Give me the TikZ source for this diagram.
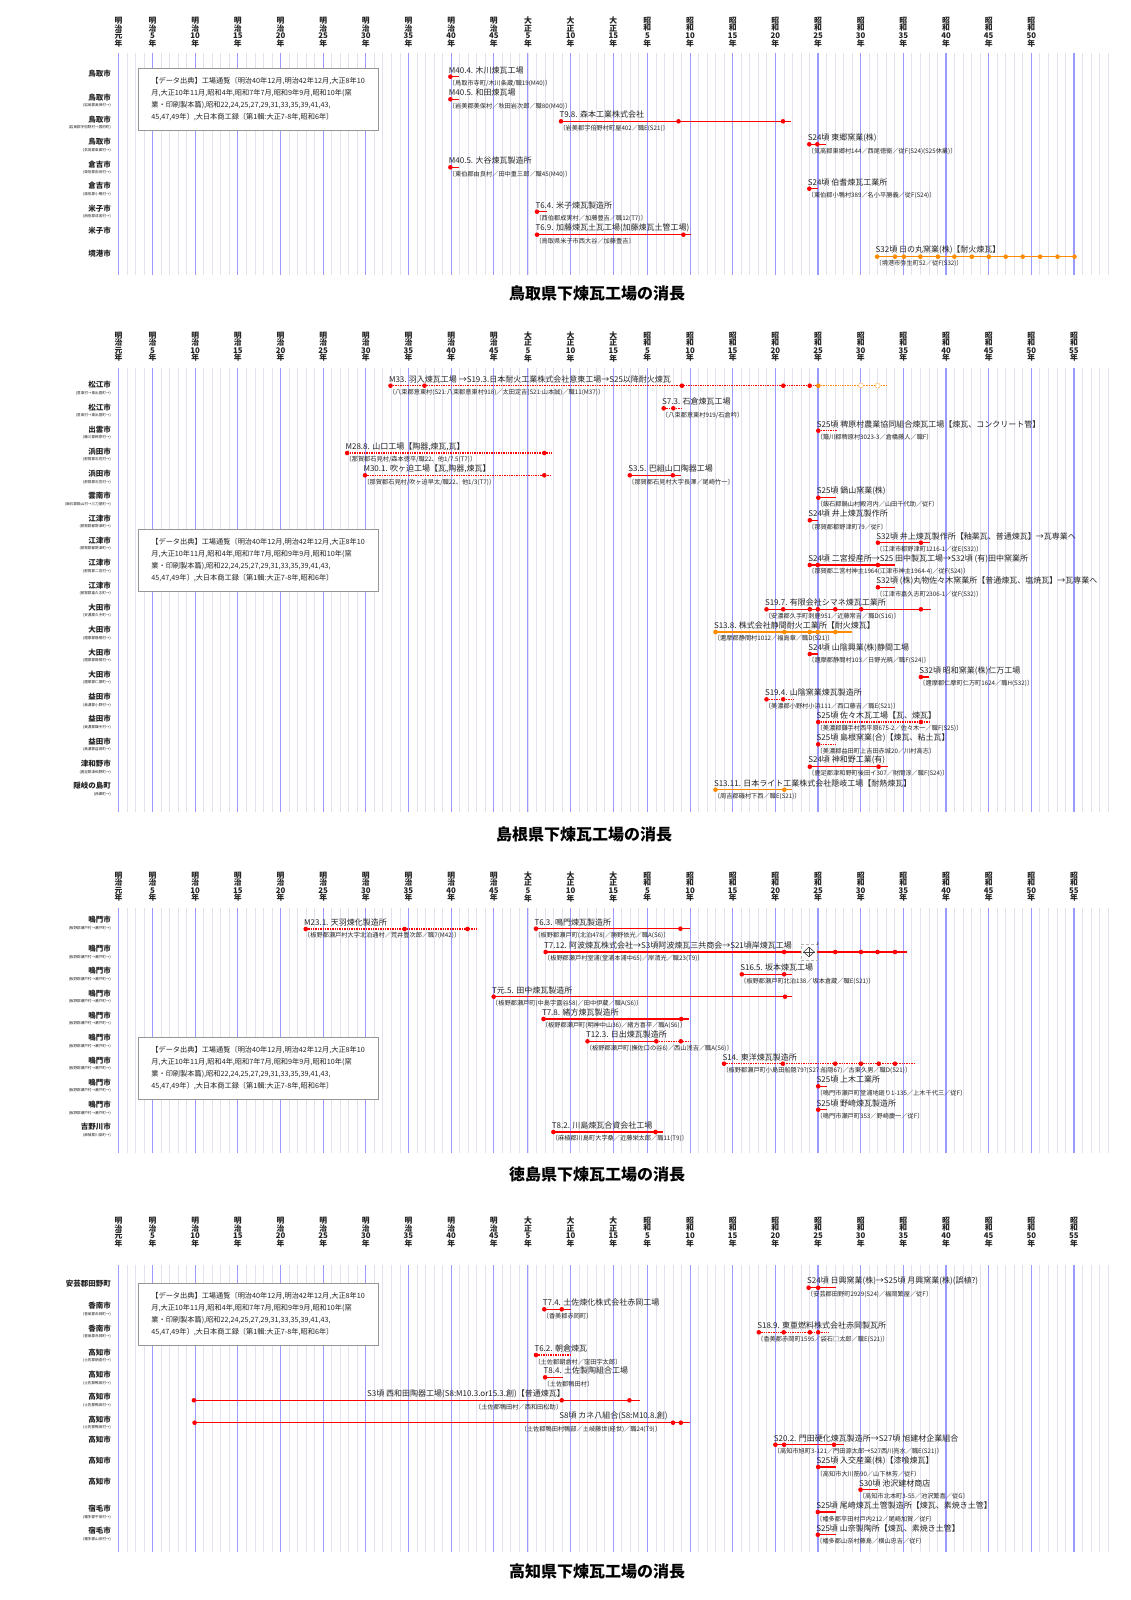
\documentclass[tikz,border=0pt]{standalone}
\usepackage{fontspec}
\setmainfont{Noto Sans CJK JP}
\usetikzlibrary{shapes.geometric}
\definecolor{majc}{RGB}{155,155,255}
\definecolor{minc}{RGB}{226,226,238}
\definecolor{txtc}{RGB}{35,35,35}
\definecolor{evr}{RGB}{255,0,0}
\definecolor{evo}{RGB}{255,140,0}
\definecolor{boxc}{RGB}{150,150,150}
\newcommand\hdrlistA{1868/明/治/元, 1872/明/治/5, 1877/明/治/10, 1882/明/治/15, 1887/明/治/20, 1892/明/治/25, 1897/明/治/30, 1902/明/治/35, 1907/明/治/40, 1912/明/治/45, 1916/大/正/5, 1921/大/正/10, 1926/大/正/15, 1930/昭/和/5, 1935/昭/和/10, 1940/昭/和/15, 1945/昭/和/20, 1950/昭/和/25, 1955/昭/和/30, 1960/昭/和/35, 1965/昭/和/40, 1970/昭/和/45, 1975/昭/和/50}
\newcommand\hdrlistB{1868/明/治/元, 1872/明/治/5, 1877/明/治/10, 1882/明/治/15, 1887/明/治/20, 1892/明/治/25, 1897/明/治/30, 1902/明/治/35, 1907/明/治/40, 1912/明/治/45, 1916/大/正/5, 1921/大/正/10, 1926/大/正/15, 1930/昭/和/5, 1935/昭/和/10, 1940/昭/和/15, 1945/昭/和/20, 1950/昭/和/25, 1955/昭/和/30, 1960/昭/和/35, 1965/昭/和/40, 1970/昭/和/45, 1975/昭/和/50, 1980/昭/和/55}
\newcommand\yrx[1]{118.4+8.532*(#1-1868)}
\newcommand\gridpanel[2]{%
  \foreach \yr in {1868,...,1984}{\draw[minl] ({\yrx{\yr}},#1) -- ({\yrx{\yr}},#2);}
  \foreach \yr in {1868,1872,1877,1882,1887,1892,1897,1902,1907,1912,1916,1921,1926,1930,1935,1940,1945,1950,1955,1960,1965,1970,1975,1980}{\draw[majl] ({\yrx{\yr}},#1) -- ({\yrx{\yr}},#2);}
}
\newcommand\hdr[3]{%
  \foreach \yr/\ka/\kb/\kn in #1 {\node[hdrtx] (#3\yr) at ({\yrx{\yr}},#2) {\ka\\\kb\\\kn\\年};}
}
\newcommand\evt[8]{%
  \coordinate (#1s) at (#3,#2);
  \coordinate (#1e) at (#4,#2);
  \draw[barln,#8] (#1s) -- (#1e);
  \foreach \dx [count=\k] in {#5} {\node[dotn,#8,solid] (#1d\k) at (\dx,#2) {};}
  \node[ttltx] (#1t) at ([xshift=-1.7pt,yshift=6.4pt]#1s) {#6};
  \node[captx] (#1c) at ([xshift=-1.7pt,yshift=-6.8pt]#1s) {#7};
}
\newcommand\rl[3]{\node[rowlab] (#1) at (111,#2) {#3};}
\newcommand\rls[4]{\node[rowlab] (#1) at (111,#2) {#3};\node[sublab] (#1s) at (111,{#2+8}) {#4};}
\newcommand\notebox[2]{\node[nbox] (#1) at (138,#2) {【データ出典】工場通覧〔明治40年12月,明治42年12月,大正8年10\\月,大正10年11月,昭和4年,昭和7年7月,昭和9年9月,昭和10年(窯\\業・印刷製本篇),昭和22,24,25,27,29,31,33,35,39,41,43,\\45,47,49年〕,大日本商工録〔第1輯:大正7-8年,昭和6年〕};}
\begin{document}
\begin{tikzpicture}[x=1pt,y=-1pt,
  minl/.style={draw=minc,line width=0.8pt},
  majl/.style={draw=majc,line width=1.1pt},
  hdrtx/.style={inner sep=0pt,align=center,text=txtc,font=\bfseries\fontsize{7.8}{7.6}\selectfont},
  ttltx/.style={anchor=west,inner sep=0pt,text=txtc,font=\fontsize{8}{8.5}\selectfont},
  captx/.style={anchor=west,inner sep=0pt,text=txtc,font=\fontsize{6.2}{6.5}\selectfont},
  rowlab/.style={anchor=east,inner sep=0pt,text=txtc,font=\bfseries\fontsize{7.5}{8}\selectfont},
  sublab/.style={anchor=east,inner sep=0pt,text=txtc,font=\fontsize{3.6}{4}\selectfont},
  ptitle/.style={inner sep=0pt,text=black,font=\bfseries\fontsize{16}{18}\selectfont},
  barln/.style={line width=1.3pt},
  dotline/.style={dash pattern=on 1.4pt off 1pt},
  dotn/.style={circle,fill,draw=none,inner sep=0pt,minimum size=4.6pt},
  nbox/.style={anchor=north west,draw=boxc,fill=white,line width=0.8pt,minimum width=239.5pt,minimum height=61.5pt,align=left,inner xsep=11pt,text=txtc,font=\fontsize{7.2}{12}\selectfont}]
\fill[white] (0,0) rectangle (1131,1600);
\useasboundingbox (0,0) rectangle (1131,1600);

% ================= Panel 1: Tottori =================
\gridpanel{53}{275}
\hdr{\hdrlistA}{32}{hA}
\notebox{nA}{68.3}
\rl{rAa}{74}{鳥取市}
\rls{rAb}{97.7}{鳥取市}{(岩美郡美保村→)}
\rls{rAc}{119.7}{鳥取市}{(岩美郡宇倍野村→国府町)}
\rls{rAd}{142}{鳥取市}{(気高郡東郷村→)}
\rls{rAe}{164.5}{倉吉市}{(東伯郡由良村→)}
\rls{rAf}{186}{倉吉市}{(東伯郡小鴨村→)}
\rls{rAg}{208.5}{米子市}{(西伯郡成実村→)}
\rl{rAh}{231}{米子市}
\rl{rAi}{253.5}{境港市}
\evt{a1}{76.7}{450.4}{459.3}{450.4}{M40.4. 木川煉瓦工場}{〔鳥取市寺町/木川条蔵/職19(M40)〕}{evr}
\evt{a2}{99.3}{450.4}{459.3}{450.4}{M40.5. 和田煉瓦場}{〔岩美郡美保村／秋田岩次郎／職80(M40)〕}{evr}
\evt{a3}{121.3}{561}{790.5}{561,678.5,783}{T9.8. 森本工業株式会社}{〔岩美郡宇倍野村町屋402／職E(S21)〕}{evr}
\evt{a4}{144.3}{809.3}{826.3}{809.3,817.3}{S24頃 東郷窯業(株)}{〔気高郡東郷村144／西尾徳衛／従F(S24)(S25休業)〕}{evr}
\evt{a5}{167.3}{450.4}{459.3}{450.4}{M40.5. 大谷煉瓦製造所}{〔東伯郡由良村／田中重三郎／職45(M40)〕}{evr}
\evt{a6}{188.7}{809.3}{818.2}{809.3}{S24頃 伯耆煉瓦工業所}{〔東伯郡小鴨村389／名小平勝義／従F(S24)〕}{evr}
\evt{a7}{211.7}{537}{546.8}{537}{T6.4. 米子煉瓦製造所}{〔西伯郡成実村／加藤豊吉／職12(T7)〕}{evr}
\evt{a8}{234.7}{537}{691.4}{537,683.4}{T6.9. 加藤煉瓦土瓦工場(加藤煉瓦土管工場)}{〔鳥取県米子市西大谷／加藤豊吉〕}{evr}
\evt{a9}{256.7}{877.1}{1074.5}{877.1,895,903.9,920.4,937.9,954.4,971.8,988.8,1005.7,1022.7,1040.1,1057.5,1074.5}{S32頃 日の丸窯業(株)【耐火煉瓦】}{〔境港市弥生町52／従F(S32)〕}{evo}
\node[ptitle] (tA) at (597,293) {鳥取県下煉瓦工場の消長};

% ================= Panel 2: Shimane =================
\gridpanel{368}{812}
\hdr{\hdrlistB}{346.7}{hB}
\notebox{nB}{529}
\rls{rBa}{385}{松江市}{(意東村→東出雲町→)}
\rls{rBb}{407.3}{松江市}{(意東村→東出雲町→)}
\rls{rBc}{429.3}{出雲市}{(簸川郡稗原村→)}
\rls{rBd}{451.7}{浜田市}{(那賀郡石見村→)}
\rls{rBe}{474}{浜田市}{(那賀郡石見村→)}
\rls{rBf}{496}{雲南市}{(飯石郡鍋山村→三刀屋町→)}
\rls{rBg}{518.5}{江津市}{(那賀郡都野津町→)}
\rls{rBh}{540.7}{江津市}{(那賀郡都野津町→)}
\rls{rBi}{563}{江津市}{(那賀郡二宮村→)}
\rls{rBj}{585.3}{江津市}{(那賀郡嘉久志町→)}
\rls{rBk}{607.7}{大田市}{(安濃郡久手町→)}
\rls{rBl}{630}{大田市}{(邇摩郡静間村→)}
\rls{rBm}{652.3}{大田市}{(邇摩郡静間村→)}
\rls{rBn}{674.3}{大田市}{(邇摩郡仁摩町→)}
\rls{rBo}{697}{益田市}{(美濃郡小野村→)}
\rls{rBp}{719}{益田市}{(美濃郡鎌手村→)}
\rls{rBq}{741.3}{益田市}{(美濃郡益田町→)}
\rls{rBr}{764}{津和野市}{(鹿足郡津和野町→)}
\rls{rBs}{786}{隠岐の島町}{(西郷町→)}
\evt{b1}{385.7}{390.5}{818.3}{390.5,424.5,681.9,783.3,809.7}{M33. 羽入煉瓦工場 →S19.3.日本耐火工業株式会社意東工場→S25以降耐火煉瓦}{〔八束郡意東村(S21:八束郡意東村918)／太田定吉(S21:山本誠)／職11(M37)〕}{evr,dotline}
\coordinate (b1f) at (886.2,385.7);
\draw[barln,evo,dotline] (b1e) -- (b1f);
\node[dotn,evo] (b1o) at (b1e) {};
\node[circle,draw=evo,fill=white,densely dotted,line width=0.7pt,inner sep=0pt,minimum size=5pt] (b1h1) at (860.9,385.7) {};
\node[circle,draw=evo,fill=white,densely dotted,line width=0.7pt,inner sep=0pt,minimum size=5pt] (b1h2) at (877.6,385.7) {};
\evt{b2}{408.3}{663.7}{681.4}{663.7,673.3}{S7.3. 石倉煉瓦工場}{〔八束郡意東村919/石倉吟〕}{evr,dotline}
\evt{b3}{430.7}{818.3}{837}{818.3}{S25頃 稗原村農業協同組合煉瓦工場【煉瓦、コンクリート管】}{〔簸川郡稗原村3023-3／倉橋藤人／職F〕}{evr,dotline}
\evt{b4}{453}{347.1}{551.8}{347.1,544.3}{M28.8. 山口工場【陶器,煉瓦,瓦】}{〔那賀郡石見村/森本徳平/職22、他1/7.5(T7)〕}{evr,dotline}
\evt{b5}{475.3}{365}{551.8}{365,544.3}{M30.1. 吹ヶ迫工場【瓦,陶器,煉瓦】}{〔那賀郡石見村/吹ヶ迫早太/職22、他1/3(T7)〕}{evr,dotline}
\evt{b6}{475.3}{629.8}{680.5}{629.8,672.8}{S3.5. 巴組山口陶器工場}{〔那賀郡石見村大字長澤／尾崎竹一〕}{evr}
\evt{b7}{497.7}{818.3}{836}{818.3}{S25頃 鍋山窯業(株)}{〔飯石郡鍋山村殿河内／山田千代助／従F〕}{evr}
\evt{b8}{520.3}{809.8}{817.8}{809.8}{S24頃 井上煉瓦製作所}{〔那賀郡都野津町79／従F〕}{evr}
\evt{b9}{542.7}{877.9}{930}{877.9,920.9}{S32頃 井上煉瓦製作所【釉薬瓦、普通煉瓦】→瓦専業へ}{〔江津市都野津町1216-1／従E(S32)〕}{evr}
\evt{b10}{565}{809.8}{895}{809.8,817.8,877.9}{S24頃 二宮授産所→S25 田中製瓦工場→S32頃 (有)田中窯業所}{〔那賀郡二宮村神主1964(江津市神主1964-4)／従F(S24)〕}{evr}
\evt{b11}{587.3}{877.9}{895}{877.9}{S32頃 (株)丸物佐々木窯業所【普通煉瓦、塩焼瓦】→瓦専業へ}{〔江津市嘉久志町2306-1／従F(S32)〕}{evr}
\evt{b12}{609.3}{766.5}{930.7}{766.5,783.2,809.8,817.8,835.3,861.2,920.9}{S19.7. 有限会社シマネ煉瓦工業所}{〔安濃郡久手町刺鹿951／近藤常吉／職D(S16)〕}{evr}
\evt{b13}{632}{715.5}{852}{715.5,784.3,809.8,817.8,835.3}{S13.8. 株式会社静間耐火工業所【耐火煉瓦】}{〔邇摩郡静間村1012／福島章／職D(S21)〕}{evo}
\evt{b14}{654}{809.8}{817.8}{809.8}{S24頃 山陰興業(株)静間工場}{〔邇摩郡静間村103／日野光暁／職F(S24)〕}{evr}
\evt{b15}{677}{920.9}{928.5}{920.9}{S32頃 昭和窯業(株)仁万工場}{〔邇摩郡仁摩町仁万町1624／職H(S32)〕}{evr}
\evt{b16}{699.3}{766.5}{793}{766.5,783.2}{S19.4. 山陰窯業煉瓦製造所}{〔美濃郡小野村小浜111／西口藤吉／職E(S21)〕}{evr,dotline}
\evt{b17}{722}{818.2}{930}{818.2,920.9}{S25頃 佐々木瓦工場【瓦、煉瓦】}{〔美濃郡鎌手村西平原675-2／佐々木一／職F(S25)〕}{evr,dotline}
\evt{b18}{744.3}{818.2}{835.7}{818.2}{S25頃 島根窯業(合)【煉瓦、粘土瓦】}{〔美濃郡益田町上吉田赤城20／川村高志〕}{evr,dotline}
\evt{b19}{766.7}{809.8}{887.7}{809.8,878.6}{S24頃 神和野工業(有)}{〔鹿足郡津和野町後田イ307／財間淳／職F(S24)〕}{evr}
\evt{b20}{789.7}{715.5}{791.6}{715.5,784.3}{S13.11. 日本ライト工業株式会社隠岐工場【耐熱煉瓦】}{〔周吉郡磯村下西／職E(S21)〕}{evo}
\node[ptitle] (tB) at (584,834) {島根県下煉瓦工場の消長};

% ================= Panel 3: Tokushima =================
\gridpanel{908}{1153}
\hdr{\hdrlistB}{886.7}{hC}
\notebox{nC}{1037.3}
\rls{rCa}{920}{鳴門市}{(板野郡瀬戸村→瀬戸町→)}
\rls{rCb}{949}{鳴門市}{(板野郡瀬戸村→瀬戸町→)}
\rls{rCc}{971}{鳴門市}{(板野郡瀬戸村→瀬戸町→)}
\rls{rCd}{993.3}{鳴門市}{(板野郡瀬戸村→瀬戸町→)}
\rls{rCe}{1015.7}{鳴門市}{(板野郡瀬戸村→瀬戸町→)}
\rls{rCf}{1038}{鳴門市}{(板野郡瀬戸村→瀬戸町→)}
\rls{rCg}{1060.3}{鳴門市}{(板野郡瀬戸村→瀬戸町→)}
\rls{rCh}{1082.3}{鳴門市}{(板野郡瀬戸村→瀬戸町→)}
\rls{rCi}{1105}{鳴門市}{(板野郡瀬戸村→瀬戸町→)}
\rls{rCj}{1127}{吉野川市}{(麻植郡川島町→)}
\evt{c1}{929}{305.7}{476.8}{305.7,404.6,467.5}{M23.1. 天羽煉化製造所}{〔板野郡瀬戸村大字北泊通村／荒井豊次郎／職7(M42)〕}{evr,dotline}
\evt{c2}{928.7}{536}{690}{536,680.4}{T6.3. 鳴門煉瓦製造所}{〔板野郡瀬戸町(北泊478)／勝野依光／職A(S6)〕}{evr}
\evt{c3}{952}{545.6}{907.4}{545.6,784.1,835.2,860.9,877.5,895}{T7.12. 阿波煉瓦株式会社→S3頃阿波煉瓦三共商会→S21頃岸煉瓦工場}{〔板野郡瀬戸村堂浦(堂浦本浦中65)／岸清光／職23(T9)〕}{evr}
\node[draw=gray!60,densely dashed,line width=0.4pt,fill=white,inner sep=0pt,minimum width=16pt,minimum height=16pt] (c3b) at (809,952) {};
\node[diamond,draw=black!75,line width=0.6pt,inner sep=0pt,minimum width=11pt,minimum height=10pt] (c3x) at (809,952) {};
\draw[black!75,line width=0.5pt] (c3x.west) -- (c3x.east);
\draw[black!75,line width=0.5pt] (c3x.north) -- (c3x.south);
\node[inner sep=0pt,font=\fontsize{3.5}{4}\selectfont,text=txtc] (c3E) at (818,944) {E};
\evt{c4}{974.3}{741.8}{792.4}{741.8,784.1}{S16.5. 坂本煉瓦工場}{〔板野郡瀬戸町北泊138／坂本倉蔵／職E(S21)〕}{evr}
\evt{c5}{996.7}{493.7}{792.4}{493.7,785}{T元.5. 田中煉瓦製造所}{〔板野郡瀬戸町(中島字露谷58)／田中伊蔵／職A(S6)〕}{evr}
\evt{c6}{1019}{543.5}{688.7}{543.5,681.2}{T7.8. 緒方煉瓦製造所}{〔板野郡瀬戸町(明神中山36)／緒方喜平／職A(S6)〕}{evr}
\evt{c7}{1041.3}{587.5}{656.3}{587.5,656.3}{T12.3. 日出煉瓦製造所}{〔板野郡瀬戸町(撫佐口の谷6)／西山浅吉／職A(S6)〕}{evr}
\coordinate (c7f) at (690.8,1041.3);
\draw[barln,evr,dotline] (c7e) -- (c7f);
\node[dotn,evr] (c7d3) at (680.8,1041.3) {};
\evt{c8}{1063.7}{724}{914.9}{724,782.9,835.2,860.9,878.8,895}{S14. 東洋煉瓦製造所}{〔板野郡瀬戸町小島田船隠79?(S27:船隠67)／古東久男／職D(S21)〕}{evr,dotline}
\evt{c9}{1086.3}{818.2}{826.5}{818.2}{S25頃 上木工業所}{〔鳴門市瀬戸町堂浦地廻り1-135／上木千代三／従F〕}{evr}
\evt{c10}{1109.7}{818.2}{826.5}{818.2}{S25頃 野崎煉瓦製造所}{〔鳴門市瀬戸町353／野崎慶一／従F〕}{evr}
\evt{c11}{1132}{553.4}{663}{553.4,655.5}{T8.2. 川島煉瓦合資会社工場}{〔麻植郡川島町大字桑／近藤栄太郎／職11(T9)〕}{evr}
\node[ptitle] (tC) at (597,1174) {徳島県下煉瓦工場の消長};

% ================= Panel 4: Kochi =================
\gridpanel{1265}{1552}
\hdr{\hdrlistB}{1232}{hD}
\notebox{nD}{1283.3}
\rl{rDa}{1284}{安芸郡田野町}
\rls{rDb}{1306}{香南市}{(香美郡赤岡町→)}
\rls{rDc}{1328.7}{香南市}{(香美郡赤岡町→)}
\rls{rDd}{1352.7}{高知市}{(土佐郡朝倉村→)}
\rls{rDe}{1375}{高知市}{(土佐郡鴨田村→)}
\rls{rDf}{1397}{高知市}{(土佐郡鴨田村→)}
\rls{rDg}{1419.3}{高知市}{(土佐郡鴨田村→)}
\rl{rDh}{1440}{高知市}
\rl{rDi}{1460.7}{高知市}
\rl{rDj}{1481.7}{高知市}
\rls{rDk}{1509}{宿毛市}{(幡多郡平田村→)}
\rls{rDl}{1531}{宿毛市}{(幡多郡山奈村→)}
\evt{d1}{1287.7}{808.6}{835.6}{808.6,818.2}{S24頃 日興窯業(株)→S25頃 月興窯業(株)(誤植?)}{〔安芸郡田野町2929(S24)／福岡繁屋／従F〕}{evr}
\evt{d2}{1309.3}{544.3}{570.5}{544.3,561.7}{T7.4. 土佐煉化株式会社赤岡工場}{〔香美郡赤岡町〕}{evr}
\evt{d3}{1332.3}{758.8}{828.5}{758.8,783.7,809.9,818.2}{S18.9. 東亜燃料株式会社赤岡製瓦所}{〔香美郡赤岡町1595／袋石□太郎／職E(S21)〕}{evr,dotline}
\evt{d4}{1355}{536}{570.5}{536}{T6.2. 朝倉煉瓦}{〔土佐郡朝倉村／窪田宇太郎〕}{evr,dotline}
\evt{d5}{1377.3}{545.1}{563}{545.1}{T8.4. 土佐製陶組合工場}{〔土佐郡鴨田村〕}{evr}
% d6
\coordinate (d6s) at (193.9,1400.3);
\coordinate (d6e) at (639.8,1400.3);
\draw[barln,evr] (d6s) -- (d6e);
\node[dotn,evr] (d6d1) at (193.9,1400.3) {};
\node[dotn,evr] (d6d2) at (561.7,1400.3) {};
\node[dotn,evr] (d6d3) at (629.4,1400.3) {};
\node[ttltx] (d6t) at (366.9,1393.9) {S3頃 西和田陶器工場(S8:M10.3.or15.3.創)【普通煉瓦】};
\node[captx] (d6c) at (475,1407.1) {〔土佐郡鴨田村／西和田松助〕};
% d7
\coordinate (d7s) at (194.6,1422.7);
\coordinate (d7e) at (690,1422.7);
\draw[barln,evr] (d7s) -- (d7e);
\node[dotn,evr] (d7d1) at (194.6,1422.7) {};
\node[dotn,evr] (d7d2) at (673,1422.7) {};
\node[dotn,evr] (d7d3) at (680.8,1422.7) {};
\node[ttltx] (d7t) at (559.2,1416.3) {S8頃 カネ八組合(S8:M10.8.創)};
\node[captx] (d7c) at (520.6,1429.5) {〔土佐郡鴨田村鴨部／土岐藤世(経世)／職24(T9)〕};
\evt{d8}{1444.7}{775.4}{844.3}{775.4,784.1,834}{S20.2. 門田硬化煉瓦製造所→S27頃 旭建材企業組合}{〔高知市旭町3-121／門田源太郎→S27西川亮水／職E(S21)〕}{evr}
\evt{d9}{1467}{818.2}{835.6}{818.2}{S25頃 入交産業(株)【漆喰煉瓦】}{〔高知市大川筋90／山下林芳／従F〕}{evr}
\evt{d10}{1489.7}{860.5}{878.3}{860.5}{S30頃 池沢建材商店}{〔高知市北本町3-55／池沢繁喜／従G〕}{evr}
\evt{d11}{1512}{817.8}{835.6}{817.8}{S25頃 尾崎煉瓦土管製造所【煉瓦、素焼き土管】}{〔幡多郡平田村戸内212／尾崎加賀／従F〕}{evr}
\evt{d12}{1534.7}{817.8}{835.6}{817.8}{S25頃 山奈製陶所【煉瓦、素焼き土管】}{〔幡多郡山奈村藤島／横山忠吉／従F〕}{evr}
\node[ptitle] (tD) at (597,1571) {高知県下煉瓦工場の消長};
\end{tikzpicture}
\end{document}
